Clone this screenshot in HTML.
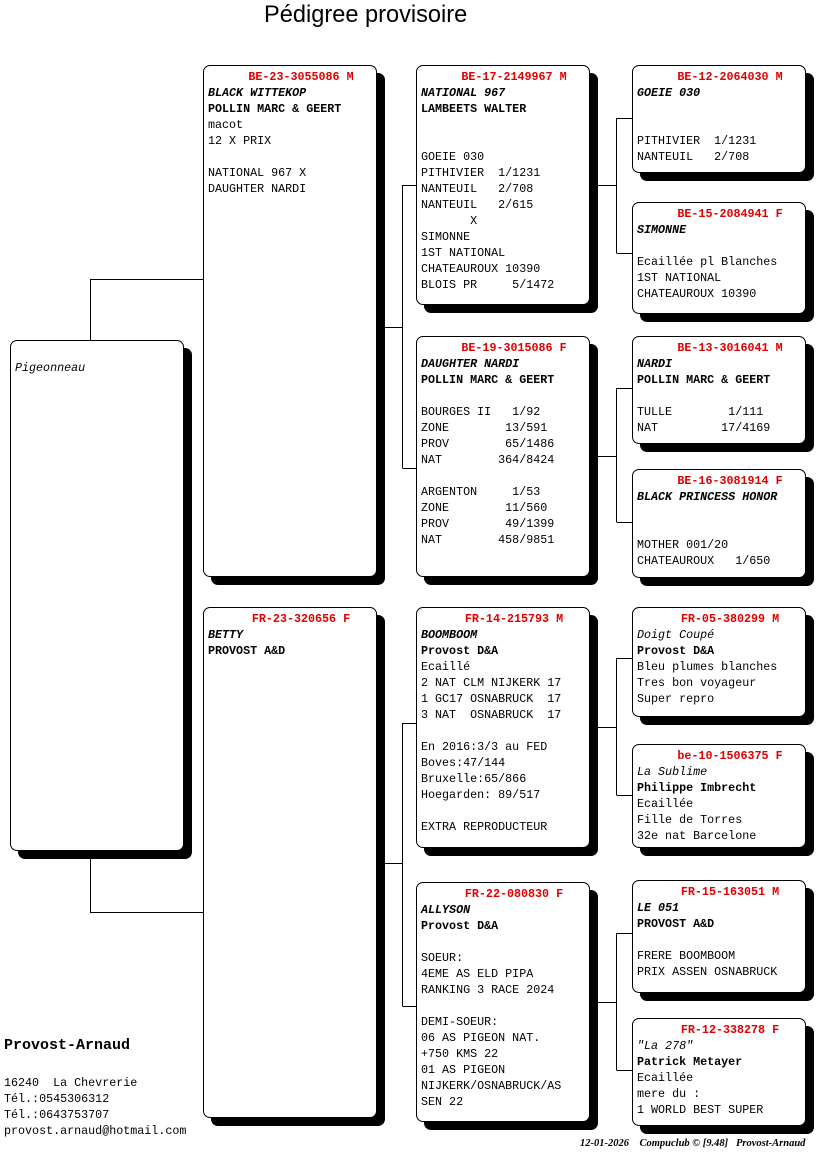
<!DOCTYPE html>
<html><head><meta charset="utf-8">
<style>
html,body{margin:0;padding:0;background:#fff;}
body{width:816px;height:1172px;position:relative;overflow:hidden;font-family:"Liberation Mono",monospace;font-size:11.7px;color:#000;}
.b{position:absolute;width:174px;border:1px solid #000;border-radius:7px;background:#fff;box-shadow:8px 8px 0 #000;padding:3px 0 0 4px;box-sizing:border-box;line-height:16px;white-space:pre;overflow:hidden;}
.id{color:#e00000;font-weight:bold;text-align:center;padding-left:18px;}
.n{font-style:italic;font-weight:bold;}
.ni{font-style:italic;}
.o{font-weight:bold;}
svg{position:absolute;left:0;top:0;}
.title{position:absolute;left:264px;top:2px;font-family:"Liberation Sans",sans-serif;font-size:23.6px;}
.foot{position:absolute;left:4px;top:1037px;line-height:16px;white-space:pre;}
.small{position:absolute;left:580px;top:1138px;font-family:"Liberation Serif",serif;font-style:italic;font-weight:bold;font-size:10.5px;white-space:pre;}
</style></head><body>
<div class="title">Pédigree provisoire</div>
<svg width="816" height="1172" fill="none" stroke="#000" stroke-width="1">
<path d="M90.5 340V279.5H203M90.5 850V912.5H203"/>
<path d="M376 327.5H402.5M402.5 185V468M402.5 185.5H416M402.5 468.5H416"/>
<path d="M376 863.5H402.5M402.5 723V1006M402.5 723.5H416M402.5 1006.5H416"/>
<path d="M597 185.5H616.5M616.5 118V253M616.5 118.5H632M616.5 253.5H632"/>
<path d="M597 456.5H616.5M616.5 388V522M616.5 388.5H632M616.5 522.5H632"/>
<path d="M597 727.5H616.5M616.5 658V795M616.5 658.5H632M616.5 795.5H632"/>
<path d="M597 1002.5H616.5M616.5 933V1070M616.5 933.5H632M616.5 1070.5H632"/>
</svg>

<div class="b" style="left:10px;top:340px;height:511px;">
<div class="ni">Pigeonneau</div></div>

<div class="b" style="left:203px;top:65px;height:512px;"><div class="id">BE-23-3055086 M</div><div class="n">BLACK WITTEKOP</div><div class="o">POLLIN MARC &amp; GEERT</div><div>macot
12 X PRIX

NATIONAL 967 X
DAUGHTER NARDI</div></div>

<div class="b" style="left:203px;top:607px;height:511px;"><div class="id">FR-23-320656 F</div><div class="n">BETTY</div><div class="o">PROVOST A&amp;D</div></div>

<div class="b" style="left:416px;top:65px;height:240px;"><div class="id">BE-17-2149967 M</div><div class="n">NATIONAL 967</div><div class="o">LAMBEETS WALTER</div><div>

GOEIE 030
PITHIVIER  1/1231
NANTEUIL   2/708
NANTEUIL   2/615
       X
SIMONNE
1ST NATIONAL
CHATEAUROUX 10390
BLOIS PR     5/1472</div></div>

<div class="b" style="left:416px;top:336px;height:241px;"><div class="id">BE-19-3015086 F</div><div class="n">DAUGHTER NARDI</div><div class="o">POLLIN MARC &amp; GEERT</div><div>
BOURGES II   1/92
ZONE        13/591
PROV        65/1486
NAT        364/8424

ARGENTON     1/53
ZONE        11/560
PROV        49/1399
NAT        458/9851</div></div>

<div class="b" style="left:416px;top:607px;height:241px;"><div class="id">FR-14-215793 M</div><div class="n">BOOMBOOM</div><div class="o">Provost D&amp;A</div><div>Ecaillé
2 NAT CLM NIJKERK 17
1 GC17 OSNABRUCK  17
3 NAT  OSNABRUCK  17

En 2016:3/3 au FED
Boves:47/144
Bruxelle:65/866
Hoegarden: 89/517

EXTRA REPRODUCTEUR</div></div>

<div class="b" style="left:416px;top:882px;height:240px;"><div class="id">FR-22-080830 F</div><div class="n">ALLYSON</div><div class="o">Provost D&amp;A</div><div>
SOEUR:
4EME AS ELD PIPA
RANKING 3 RACE 2024

DEMI-SOEUR:
06 AS PIGEON NAT.
+750 KMS 22
01 AS PIGEON
NIJKERK/OSNABRUCK/AS
SEN 22</div></div>

<div class="b" style="left:632px;top:65px;height:108px;"><div class="id">BE-12-2064030 M</div><div class="n">GOEIE 030</div><div>

PITHIVIER  1/1231
NANTEUIL   2/708</div></div>

<div class="b" style="left:632px;top:202px;height:112px;"><div class="id">BE-15-2084941 F</div><div class="n">SIMONNE</div><div>
Ecaillée pl Blanches
1ST NATIONAL
CHATEAUROUX 10390</div></div>

<div class="b" style="left:632px;top:336px;height:108px;"><div class="id">BE-13-3016041 M</div><div class="n">NARDI</div><div class="o">POLLIN MARC &amp; GEERT</div><div>
TULLE        1/111
NAT         17/4169</div></div>

<div class="b" style="left:632px;top:469px;height:109px;"><div class="id">BE-16-3081914 F</div><div class="n">BLACK PRINCESS HONOR</div><div>

MOTHER 001/20
CHATEAUROUX   1/650</div></div>

<div class="b" style="left:632px;top:607px;height:110px;"><div class="id">FR-05-380299 M</div><div class="ni">Doigt Coupé</div><div class="o">Provost D&amp;A</div><div>Bleu plumes blanches
Tres bon voyageur
Super repro</div></div>

<div class="b" style="left:632px;top:744px;height:104px;"><div class="id">be-10-1506375 F</div><div class="ni">La Sublime</div><div class="o">Philippe Imbrecht</div><div>Ecaillée
Fille de Torres
32e nat Barcelone</div></div>

<div class="b" style="left:632px;top:880px;height:113px;"><div class="id">FR-15-163051 M</div><div class="n">LE 051</div><div class="o">PROVOST A&amp;D</div><div>
FRERE BOOMBOOM
PRIX ASSEN OSNABRUCK</div></div>

<div class="b" style="left:632px;top:1018px;height:108px;"><div class="id">FR-12-338278 F</div><div class="ni">"La 278"</div><div class="o">Patrick Metayer</div><div>Ecaillée
mere du :
1 WORLD BEST SUPER</div></div>

<div class="foot"><div style="font-weight:bold;font-size:15px;line-height:18px;">Provost-Arnaud</div><div style="margin-top:4px">
16240  La Chevrerie
Tél.:0545306312
Tél.:0643753707
provost.arnaud@hotmail.com</div></div>
<div class="small">12-01-2026    Compuclub © [9.48]   Provost-Arnaud</div>
</body></html>
